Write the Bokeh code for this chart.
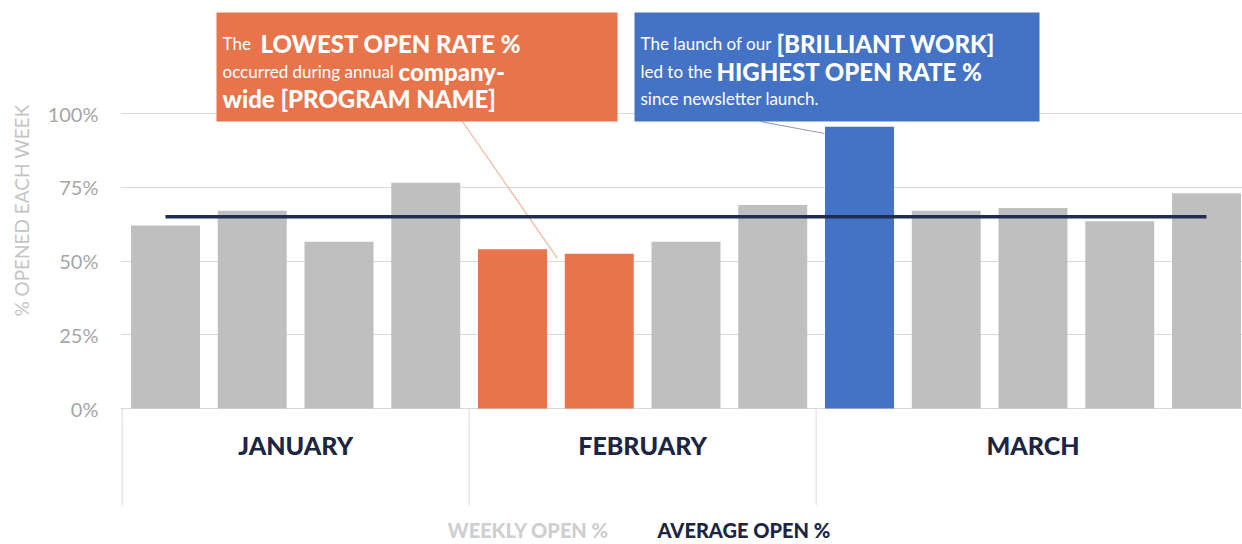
from bokeh.plotting import figure
from bokeh.models import Range1d, FixedTicker, NumeralTickFormatter
from bokeh.layouts import column
from bokeh.core.properties import value
from bokeh.embed import file_html
from bokeh.resources import INLINE

# ---------------- data ----------------
months = ["JANUARY", "FEBRUARY", "MARCH"]
weeks_per_month = [4, 4, 5]
weekly_open = [0.62, 0.67, 0.565, 0.765, 0.54, 0.525, 0.565, 0.69,
               0.955, 0.67, 0.68, 0.635, 0.73]
average_open = 0.65
lowest_weeks = [4, 5]
highest_weeks = [8]
y_ticks = [0, 0.25, 0.5, 0.75, 1.0]
legend_labels = ["WEEKLY OPEN %", "AVERAGE OPEN %"]

orange_note = [
    [("The ", False), ("LOWEST OPEN RATE %", True)],
    [("occurred during annual ", False), ("company-", True)],
    [("wide [PROGRAM NAME]", True)],
]
blue_note = [
    [("The launch of our ", False), ("[BRILLIANT WORK]", True)],
    [("led to the ", False), ("HIGHEST OPEN RATE %", True)],
    [("since newsletter launch.", False)],
]

# ---------------- styles ----------------
GRAY = "#BFBFBF"
ORANGE = "#E8744B"
BLUE = "#4472C4"
NAVY = "#1C2541"
AVG = "#1F2D52"
GRID = "#D9D9D9"

# layout helpers (page pixel -> data units)
SLOT = 86.75
X0 = 165.0
Y0 = 408.0
YS = 295.0


def px_x(px):
    return (px - X0) / SLOT


def px_y(py):
    return (Y0 - py) / YS


n = len(weekly_open)
xs = list(range(n))
colors = []
for i in range(n):
    if i in lowest_weeks:
        colors.append(ORANGE)
    elif i in highest_weeks:
        colors.append(BLUE)
    else:
        colors.append(GRAY)

TOP_H = 420
xr = Range1d(px_x(120), px_x(1242))
y_start = px_y(TOP_H)
y_end = px_y(0)

p = figure(width=1242, height=TOP_H, x_range=xr, y_range=Range1d(y_start, y_end),
           output_backend="svg", toolbar_location=None, x_axis_location=None,
           min_border_left=120, min_border_right=0, min_border_top=0,
           min_border_bottom=0, outline_line_color=None)
p.xgrid.visible = False
p.ygrid.ticker = FixedTicker(ticks=y_ticks)
p.ygrid.grid_line_color = GRID
p.yaxis.ticker = FixedTicker(ticks=y_ticks)
p.yaxis.formatter = NumeralTickFormatter(format="0%")
p.yaxis.axis_line_color = None
p.yaxis.major_tick_line_color = None
p.yaxis.minor_tick_line_color = None
p.yaxis.major_tick_out = 0
p.yaxis.major_tick_in = 0
p.yaxis.major_label_standoff = 22
p.yaxis.major_label_text_font = "Lato"
p.yaxis.major_label_text_font_size = "20px"
p.yaxis.major_label_text_color = "#A6A6A6"
p.yaxis.axis_label = "% OPENED EACH WEEK"
p.yaxis.axis_label_text_font = "Lato"
p.yaxis.axis_label_text_font_style = "normal"
p.yaxis.axis_label_text_font_size = "19px"
p.yaxis.axis_label_text_color = "#C4C4C4"
p.yaxis.axis_label_standoff = 12

# month separators
bounds = [-0.5]
for w in weeks_per_month[:-1]:
    bounds.append(bounds[-1] + w)
p.segment(x0=bounds, y0=[0] * len(bounds), x1=bounds, y1=[y_start] * len(bounds),
          line_color=GRID, line_width=1)

# bars
p.vbar(x=xs, top=weekly_open, bottom=0, width=0.795, fill_color=colors,
       line_color=None)

# leader lines
p.segment(x0=[px_x(462)], y0=[px_y(121)], x1=[px_x(557)], y1=[px_y(258)],
          line_color="#F2B49A", line_width=1.2)
p.segment(x0=[px_x(760)], y0=[px_y(121)], x1=[px_x(824)], y1=[px_y(133)],
          line_color="#9AA3B5", line_width=1.2)

# average line
p.line(x=[xs[0], xs[-1]], y=[average_open, average_open], line_color=AVG,
       line_width=3.5)

# annotation boxes
p.quad(left=[px_x(216)], right=[px_x(617)], top=[px_y(12)], bottom=[px_y(121)],
       fill_color=ORANGE, line_color=None)
p.quad(left=[px_x(634)], right=[px_x(1039)], top=[px_y(12)], bottom=[px_y(121)],
       fill_color=BLUE, line_color=None)

orange_starts = [[222, 260], [222, 398], [222]]
blue_starts = [[640, 776], [640, 716], [640]]
baselines = [43, 71, 98]


def draw_note(note, starts):
    for li, line in enumerate(note):
        for si, (txt, bold) in enumerate(line):
            p.text(x=[px_x(starts[li][si])], y=[px_y(baselines[li])], text=[txt],
                   text_font=value("Lato Black" if bold else "Lato"),
                   text_font_size=value("24px" if bold else "17px"),
                   text_color="white", text_baseline="alphabetic",
                   text_align="left")


draw_note(orange_note, orange_starts)
draw_note(blue_note, blue_starts)

# ---------------- bottom band: categories + legend ----------------
b = figure(width=1242, height=544 - TOP_H, x_range=xr, y_range=Range1d(544, TOP_H),
           output_backend="svg", toolbar_location=None, x_axis_location=None,
           y_axis_location=None, min_border_left=120, min_border_right=0,
           min_border_top=0, min_border_bottom=0, outline_line_color=None)
b.grid.visible = False
b.segment(x0=bounds, y0=[TOP_H] * len(bounds), x1=bounds, y1=[505] * len(bounds),
          line_color=GRID, line_width=1)

centers = []
for bd, w in zip(bounds, weeks_per_month):
    centers.append(bd + w / 2)
b.text(x=centers, y=[444] * len(months), text=months,
       text_font=value("Lato Black"), text_font_size=value("25px"),
       text_color=NAVY, text_align="center", text_baseline="middle")

b.text(x=[px_x(447)], y=[529], text=[legend_labels[0]],
       text_font=value("Lato Black"), text_font_size=value("20px"),
       text_color="#CFCFCF", text_align="left", text_baseline="middle")
b.text(x=[px_x(657)], y=[529], text=[legend_labels[1]],
       text_font=value("Lato Black"), text_font_size=value("20px"),
       text_color=NAVY, text_align="left", text_baseline="middle")

layout = column(p, b)
open("out.html", "w").write(file_html(layout, INLINE))
